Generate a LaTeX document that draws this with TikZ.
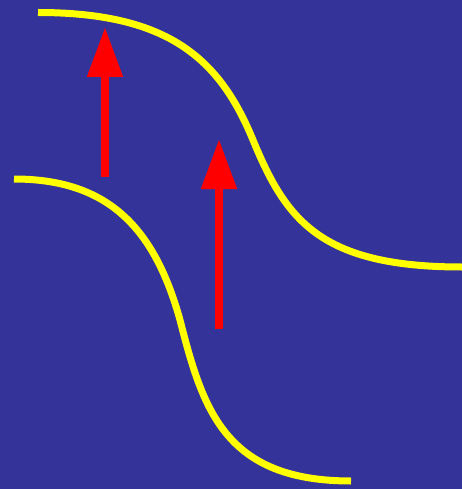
\documentclass[tikz,border=0pt]{standalone}
\usetikzlibrary{arrows.meta}
\definecolor{bgblue}{RGB}{51,51,153}
\definecolor{wireyellow}{RGB}{255,255,0}
\definecolor{arrowred}{RGB}{255,0,0}
\begin{document}
\begin{tikzpicture}[x=1pt,y=-1pt,
  wire/.style={draw=wireyellow,line width=7pt,line cap=butt},
  uparrow/.style={draw=arrowred,line width=8pt,-{Triangle[length=50pt,width=34pt]}}]
\fill[bgblue] (0,0) rectangle (462,489);
\useasboundingbox (0,0) rectangle (462,489);
% upper wire
\coordinate (u0) at (38,12.5);
\coordinate (u1) at (253,140);
\coordinate (u2) at (462,267);
\draw[wire] (u0) .. controls (170,12.5) and (220,60) .. (u1)
  .. controls (286,220) and (320,267) .. (u2);
% lower wire
\coordinate (l0) at (14,179);
\coordinate (l1) at (180,320);
\coordinate (l2) at (351,481);
\draw[wire] (l0) .. controls (110,179) and (155,230) .. (l1)
  .. controls (203,410) and (225,481) .. (l2);
% arrows
\coordinate (a1s) at (105,177);
\coordinate (a1e) at (105,27);
\coordinate (a2s) at (219,329);
\coordinate (a2e) at (219,139);
\draw[uparrow] (a1s) -- (a1e);
\draw[uparrow] (a2s) -- (a2e);
\end{tikzpicture}
\end{document}
